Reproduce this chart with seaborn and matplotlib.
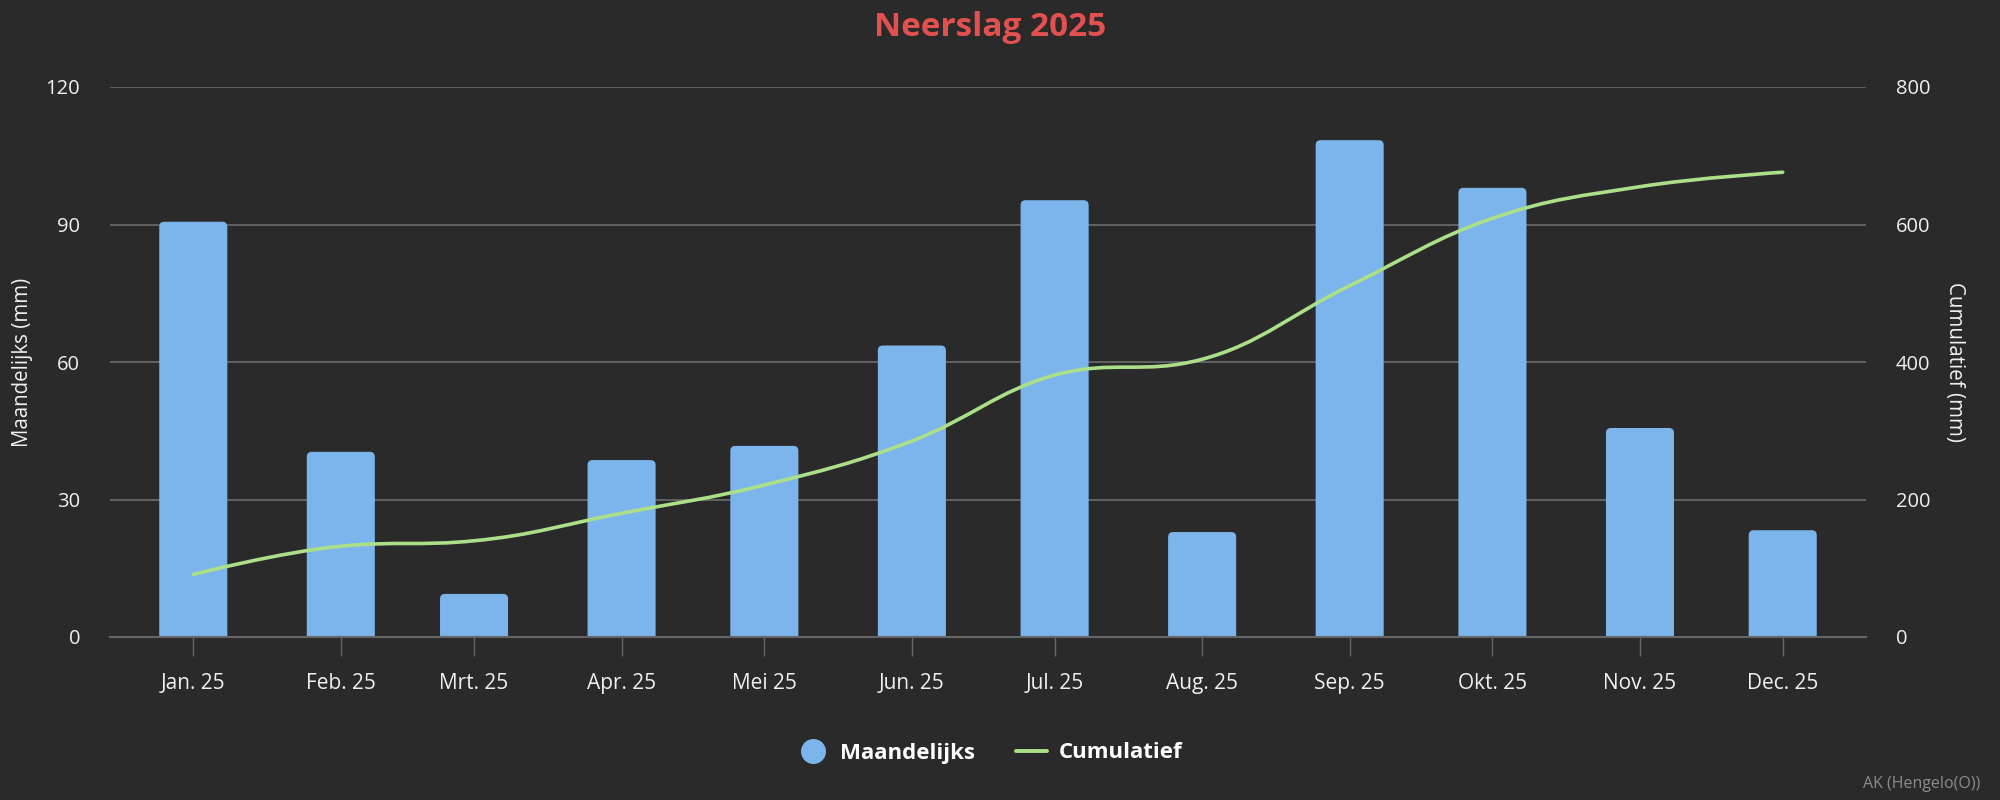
import numpy as np
import pandas as pd
import matplotlib
matplotlib.use("Agg")
import matplotlib.pyplot as plt
import matplotlib.dates as mdates
import seaborn as sns
from matplotlib.path import Path
from matplotlib.patches import PathPatch, FancyBboxPatch
from matplotlib.lines import Line2D

# ---------------- data ----------------
months = ["2025-01-01", "2025-02-01", "2025-03-01", "2025-04-01", "2025-05-01", "2025-06-01",
          "2025-07-01", "2025-08-01", "2025-09-01", "2025-10-01", "2025-11-01", "2025-12-01"]
month_labels = ["Jan. 25", "Feb. 25", "Mrt. 25", "Apr. 25", "Mei 25", "Jun. 25",
                "Jul. 25", "Aug. 25", "Sep. 25", "Okt. 25", "Nov. 25", "Dec. 25"]
monthly_mm = [90.6, 40.4, 9.4, 38.6, 41.7, 63.6, 95.3, 22.9, 108.4, 98.0, 45.6, 23.3]
cumulative_mm = [91, 132, 140, 180, 221, 285, 381, 404, 511, 609, 655, 676]
left_ticks = [0, 30, 60, 90, 120]
right_ticks = [0, 200, 400, 600, 800]

title = "Neerslag 2025"
left_label = "Maandelijks (mm)"
right_label = "Cumulatief (mm)"
series_names = ["Maandelijks", "Cumulatief"]
credit = "AK (Hengelo(O))"

# ---------------- style ----------------
BG = "#2a2a2a"
BAR = "#7cb5ec"
LINE = "#abdf88"
GRID = "#6c6c6c"
TXT = "#f0f0f0"
TITLE_C = "#e2514f"

sns.set_theme(style="dark")
plt.rcParams["font.family"] = ["Open Sans", "DejaVu Sans"]
plt.rcParams["axes.edgecolor"] = GRID

fig = plt.figure(figsize=(20, 8), dpi=100, facecolor=BG)
ax = fig.add_axes([0.055, 0.20375, 0.878, 0.6875])
ax.set_facecolor(BG)

xnum = mdates.date2num(pd.to_datetime(months))
df = pd.DataFrame({"x": xnum, "mm": monthly_mm})
sns.barplot(data=df, x="x", y="mm", native_scale=True, color=BAR, saturation=1,
            width=0.51, errorbar=None, ax=ax, zorder=3)

# rounded top corners (bar width ~14.3 days)
bar_w = 14.3
r_days = 1.05
for p in list(ax.patches):
    cx = p.get_x() + p.get_width() / 2
    h = p.get_height()
    p.remove()
    fb = FancyBboxPatch((cx - bar_w / 2, -3), bar_w, h + 3,
                        boxstyle=f"round,pad=0,rounding_size={r_days}",
                        mutation_aspect=1.04, fc=BAR, ec="none", zorder=3)
    ax.add_patch(fb)

pad_days = 17.5
ax.set_xlim(xnum[0] - pad_days, xnum[-1] + pad_days)
ax.set_ylim(0, 120)
ax.set_yticks(left_ticks)
ax.set_xticks(xnum)
ax.set_xticklabels(month_labels)
ax.set_xlabel("")
ax.set_ylabel("")
ax.grid(axis="y", color=GRID, lw=1.2, zorder=0)
ax.grid(axis="x", visible=False)
ax.set_axisbelow(True)
for s in ["top", "left", "right"]:
    ax.spines[s].set_visible(False)
ax.spines["bottom"].set_visible(True)
ax.spines["bottom"].set_color("#666666")
ax.spines["bottom"].set_linewidth(1.5)
ax.spines["bottom"].set_zorder(4)
ax.tick_params(axis="x", bottom=True, length=13.7, width=1, color="#666666",
               pad=12.5, labelsize=15, labelcolor=TXT)
ax.tick_params(axis="y", left=False, length=0, pad=21.6, labelsize=14.5, labelcolor=TXT)

# secondary axis with Highcharts-style spline
ax2 = ax.twinx()
ax2.set_ylim(0, 800)
ax2.set_yticks(right_ticks)
ax2.grid(False)
for s in ax2.spines.values():
    s.set_visible(False)
ax2.tick_params(axis="y", right=False, length=0, pad=21.6, labelsize=14.5, labelcolor=TXT)
ax2.set_ylabel("")


def hc_spline_path(xs, ys, smoothing=1.5):
    n = len(xs)
    denom = smoothing + 1
    left = [None] * n
    right = [None] * n
    for i in range(1, n - 1):
        px, py = xs[i], ys[i]
        lx, ly = xs[i - 1], ys[i - 1]
        nx, ny = xs[i + 1], ys[i + 1]
        lcx = (smoothing * px + lx) / denom
        lcy = (smoothing * py + ly) / denom
        rcx = (smoothing * px + nx) / denom
        rcy = (smoothing * py + ny) / denom
        corr = 0.0
        if rcx != lcx:
            corr = (rcy - lcy) * (rcx - px) / (rcx - lcx) + py - rcy
        lcy += corr
        rcy += corr
        if lcy > ly and lcy > py:
            lcy = max(ly, py); rcy = 2 * py - lcy
        elif lcy < ly and lcy < py:
            lcy = min(ly, py); rcy = 2 * py - lcy
        if rcy > ny and rcy > py:
            rcy = max(ny, py); lcy = 2 * py - rcy
        elif rcy < ny and rcy < py:
            rcy = min(ny, py); lcy = 2 * py - rcy
        left[i] = (lcx, lcy)
        right[i] = (rcx, rcy)
    verts = [(xs[0], ys[0])]
    codes = [Path.MOVETO]
    for i in range(1, n):
        c1 = right[i - 1] if right[i - 1] is not None else (xs[i - 1], ys[i - 1])
        c2 = left[i] if left[i] is not None else (xs[i], ys[i])
        verts += [c1, c2, (xs[i], ys[i])]
        codes += [Path.CURVE4] * 3
    return Path(verts, codes)


path = hc_spline_path(list(xnum), list(cumulative_mm))
ax2.add_patch(PathPatch(path, fc="none", ec=LINE, lw=2.6, capstyle="round",
                        joinstyle="round", zorder=5))
ax2.set_xlim(ax.get_xlim())

# texts
fig.text(0.495, 1 - 36 / 800, title, ha="center", va="baseline", fontsize=24,
         fontweight="bold", color=TITLE_C)
fig.text(23 / 2000, 1 - 362 / 800, left_label, rotation=90, ha="center", va="center",
         fontsize=14.8, color=TXT)
fig.text(1955 / 2000, 1 - 362 / 800, right_label, rotation=270, ha="center", va="center",
         fontsize=14.8, color=TXT)
fig.text(0.99, 1 - 784 / 800, credit, ha="right", va="center", fontsize=11.5, color="#8c8c8c")

handles = [
    Line2D([], [], marker="o", ls="", markersize=17, markerfacecolor=BAR, markeredgecolor=BAR),
    Line2D([], [], color=LINE, lw=2.8),
]
leg = fig.legend(handles, series_names, loc="center", bbox_to_anchor=(0.495, 1 - 753 / 800),
                 ncol=2, frameon=False, borderpad=0, handlelength=1.4, handletextpad=0.52,
                 columnspacing=1.85, prop={"weight": "bold", "size": 16})
for t in leg.get_texts():
    t.set_color("#ffffff")

fig.savefig("out.png", dpi=100, facecolor=BG)
